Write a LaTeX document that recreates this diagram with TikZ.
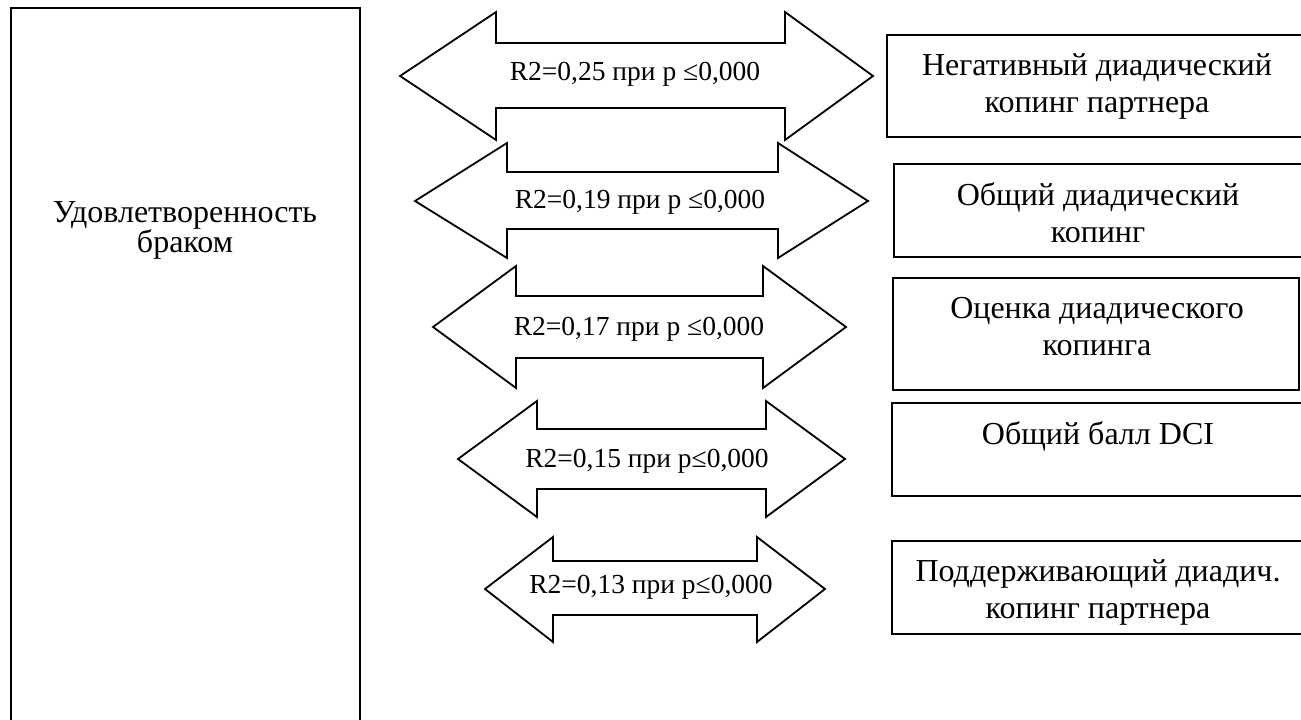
\documentclass[tikz,border=0pt]{standalone}
\usepackage{fontspec}
\setmainfont{Liberation Serif}
\begin{document}
\begin{tikzpicture}[x=1pt,y=-1pt,line width=1.8pt,line join=miter,
  frame/.style={draw,rectangle,inner sep=0pt},
  boxtext/.style={inner sep=0pt,align=center,anchor=base,font=\fontsize{32}{37}\selectfont},
  lab/.style={inner sep=0pt,anchor=base,font=\fontsize{27.5}{31}\selectfont},
  dbl/.style={draw,fill=white}]
\useasboundingbox (0,0) rectangle (1301,720);

% left box
\node[frame,minimum width=349pt,minimum height=722pt] (sat) at (185.5,369) {};
\node[inner sep=0pt,align=center,anchor=base,font={\fontsize{32}{30}\selectfont\lineskiplimit=-20pt\lineskip=0pt}] (satt) at (185,252) {Удовлетворенность\\браком};

% right boxes
\node[frame,minimum width=416pt,minimum height=102pt] (b1) at (1095,86) {};
\node[boxtext] (t1) at (1097,112) {Негативный диадический\\копинг партнера};
\node[frame,minimum width=409pt,minimum height=93pt] (b2) at (1098.5,210.5) {};
\node[boxtext] (t2) at (1098,242) {Общий диадический\\копинг};
\node[frame,minimum width=406pt,minimum height=112pt] (b3) at (1096,334) {};
\node[boxtext] (t3) at (1097,355) {Оценка диадического\\копинга};
\node[frame,minimum width=411pt,minimum height=93pt] (b4) at (1097.5,449.5) {};
\node[boxtext] (t4) at (1098,444) {Общий балл DCI};
\node[frame,minimum width=411pt,minimum height=93pt] (b5) at (1097.5,587.5) {};
\node[boxtext] (t5) at (1098,618) {Поддерживающий диадич.\\копинг партнера};

% double arrows
\draw[dbl] (400,76) -- (496,12) -- (496,43) -- (785,43) -- (785,12) -- (873,76) -- (785,140) -- (785,108) -- (496,108) -- (496,140) -- cycle;
\node[lab] (l1) at (635,80) {R2=0,25 при p ≤0,000};
\draw[dbl] (415,201) -- (507,143) -- (507,172) -- (778,172) -- (778,143) -- (868,201) -- (778,258) -- (778,229) -- (507,229) -- (507,258) -- cycle;
\node[lab] (l2) at (640,208) {R2=0,19 при p ≤0,000};
\draw[dbl] (433,327) -- (516,266) -- (516,296) -- (763,296) -- (763,266) -- (846,327) -- (763,388) -- (763,358) -- (516,358) -- (516,388) -- cycle;
\node[lab] (l3) at (639,335) {R2=0,17 при p ≤0,000};
\draw[dbl] (458,459) -- (537,401) -- (537,429) -- (766,429) -- (766,401) -- (845,459) -- (766,517) -- (766,489) -- (537,489) -- (537,517) -- cycle;
\node[lab] (l4) at (647,467) {R2=0,15 при p≤0,000};
\draw[dbl] (485,589) -- (553,537) -- (553,561) -- (757,561) -- (757,537) -- (825,589) -- (757,642) -- (757,615) -- (553,615) -- (553,642) -- cycle;
\node[lab] (l5) at (651,593) {R2=0,13 при p≤0,000};
\end{tikzpicture}
\end{document}
